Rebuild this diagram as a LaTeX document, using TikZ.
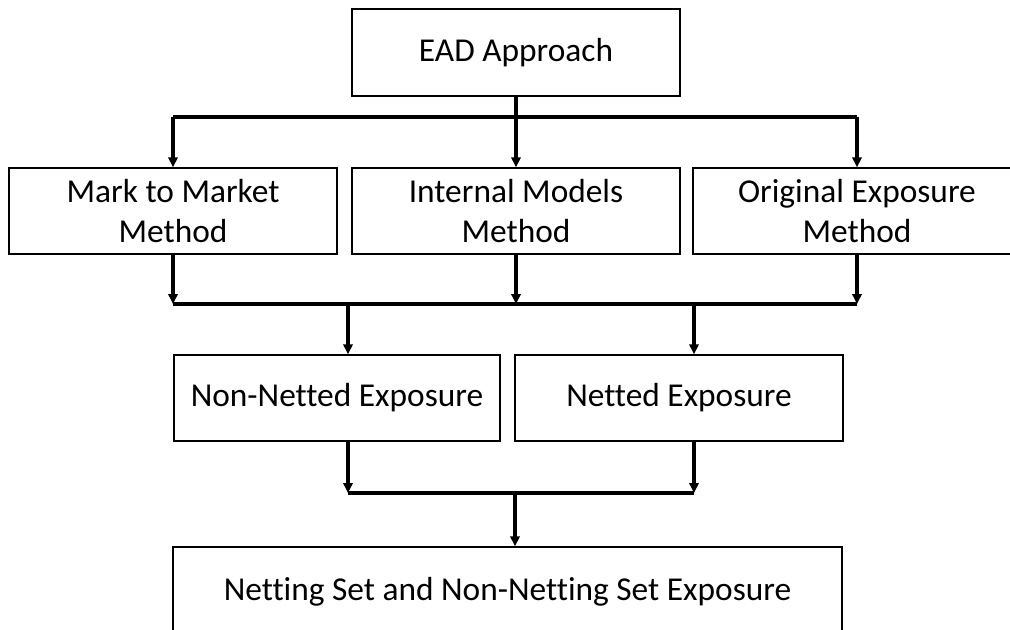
\documentclass[tikz,border=0pt]{standalone}
\usepackage{fontspec}
\setmainfont{Carlito}[Ligatures=NoCommon]
\usetikzlibrary{arrows.meta}
\tikzset{
  box/.style={draw,line width=0.8pt,align=center,inner sep=0pt,
    minimum width=6.56cm,minimum height=1.72cm,
    font=\fontsize{19}{22.7}\selectfont},
  conn/.style={line width=2.1pt},
  arr/.style={line width=1.9pt,-{Triangle[length=5.6pt,width=5.2pt]}}
}
\begin{document}
\begin{tikzpicture}[x=0.02cm,y=-0.02cm]
\useasboundingbox (0,0) rectangle (1010,629);
\clip (0,0) rectangle (1010,629);

\node[box,minimum height=1.74cm] (ead) at (516,52.5) {EAD Approach};

\node[box] (mtm) at (173,211) {Mark to Market\\Method};
\node[box] (imm) at (516,211) {Internal Models\\Method};
\node[box] (oem) at (857,211) {Original Exposure\\Method};

\node[box,minimum width=6.52cm] (nne) at (337,398) {Non-Netted Exposure};
\node[box] (net) at (679,398) {Netted Exposure};

\node[box,minimum width=13.38cm,minimum height=1.8cm] (nset) at (507.5,592)
  {Netting Set and Non-Netting Set Exposure};

% first level
\coordinate (bus1) at (516,117);
\draw[conn] (ead.south) -- (bus1);
\draw[conn] (mtm.north |- bus1) -- (oem.north |- bus1);
\draw[arr] (mtm.north |- bus1) -- (mtm.north);
\draw[arr] (bus1) -- (imm.north);
\draw[arr] (oem.north |- bus1) -- (oem.north);

% second level
\coordinate (bus2) at (516,304);
\draw[arr] (mtm.south) -- (mtm.south |- bus2);
\draw[arr] (imm.south) -- (bus2);
\draw[arr] (oem.south) -- (oem.south |- bus2);
\draw[conn] (mtm.south |- bus2) -- (oem.south |- bus2);
\coordinate (nneIn) at (348,304);
\coordinate (netIn) at (694,304);
\draw[arr] (nneIn) -- (nneIn |- nne.north);
\draw[arr] (netIn) -- (netIn |- net.north);

% third level
\coordinate (bus3) at (515,493);
\draw[arr] (nneIn |- nne.south) -- (nneIn |- bus3);
\draw[arr] (netIn |- net.south) -- (netIn |- bus3);
\draw[conn] (nneIn |- bus3) -- (netIn |- bus3);
\draw[arr] (bus3) -- (bus3 |- nset.north);
\end{tikzpicture}
\end{document}
